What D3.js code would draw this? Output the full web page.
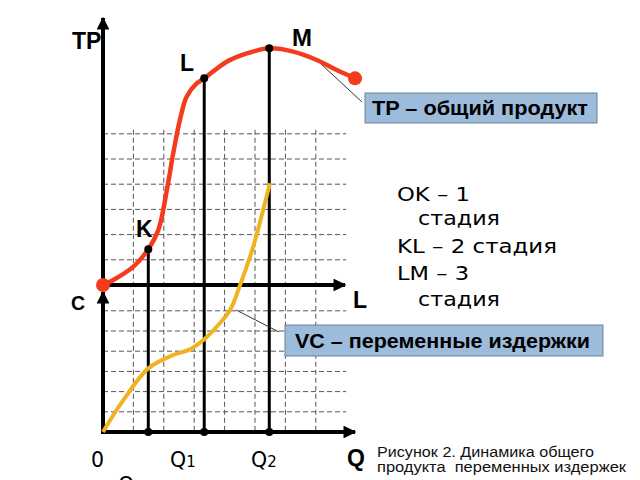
<!DOCTYPE html>
<html lang="ru">
<head>
<meta charset="utf-8">
<title>TP и VC</title>
<style>
  body { margin: 0; background: #fff; }
  svg { display: block; }
  .grid { stroke: #555; stroke-width: 1; stroke-dasharray: 5,3; fill: none; }
  .axis { stroke: #000; stroke-width: 4; fill: none; }
  .drop { stroke: #000; stroke-width: 3; }
  .lbl { font-family: "Liberation Sans", Arial, sans-serif; font-weight: bold; fill: #000; }
  .djv { font-family: "DejaVu Sans", sans-serif; fill: #000; }
</style>
</head>
<body>
<svg width="640" height="480"></svg>
<script src="https://d3js.org/d3.v7.min.js"></script>
<script>
  // labour units (one grid cell = 1)
  const tpX = [0, 0.34, 1.0, 1.49, 1.82, 2.12, 2.31, 2.53, 2.75, 3.08, 3.33, 4.07, 4.73, 5.47, 6.26, 7.03, 7.69, 8.29];
  const tpY = [0, 0.2, 0.73, 1.42, 2.18, 3.9, 5.23, 6.55, 7.47, 8.0, 8.2, 8.86, 9.19, 9.39, 9.26, 8.93, 8.53, 8.2];

  const vcX = [0, 0.34, 0.67, 1.49, 2.31, 2.86, 3.33, 3.74, 4.18, 4.51, 4.94, 5.49];
  const vcY = [0, 0.84, 1.58, 3.15, 3.81, 4.09, 4.59, 5.21, 6.04, 7.28, 9.17, 12.31];

  // K, L, M points (index into TP arrays)
  const keyPts = [
    {name: "K", i: 3},
    {name: "L", i: 10},
    {name: "M", i: 13}
  ];

  const gridX = [1, 2, 3, 4, 5, 6, 7];
  const gridY = [1, 2, 3, 4, 5, 6];

  const stages = ["OK – 1", "стадия", "KL – 2 стадия", "LM – 3", "стадия"];
  const stageIndent = [false, true, false, false, true];

  const svg = d3.select("svg");

  const x = d3.scaleLinear().domain([0, 8]).range([103, 346.2]);
  const yTP = d3.scaleLinear().domain([0, 6]).range([285, 133.8]);
  const yVC = d3.scaleLinear().domain([0, 6]).range([432, 310.8]);

  const red = "#f23c1c", orange = "#f0b21e";

  // dashed grid
  const g = svg.append("g");
  gridY.forEach(v => {
    g.append("line").attr("class", "grid")
      .attr("x1", x(0)).attr("x2", x(8)).attr("y1", yTP(v)).attr("y2", yTP(v));
    g.append("line").attr("class", "grid")
      .attr("x1", x(0)).attr("x2", x(8)).attr("y1", yVC(v)).attr("y2", yVC(v));
  });
  gridX.forEach(u => {
    g.append("line").attr("class", "grid")
      .attr("x1", x(u)).attr("x2", x(u)).attr("y1", yTP(6) - 4).attr("y2", yVC(0));
  });

  // arrow heads
  const defs = svg.append("defs");
  defs.append("marker").attr("id", "arr")
    .attr("viewBox", "0 0 10 10").attr("refX", 9).attr("refY", 5)
    .attr("markerWidth", 3.2).attr("markerHeight", 3.2)
    .attr("orient", "auto")
    .append("path").attr("d", "M0,0 L10,5 L0,10 z").attr("fill", "#000");

  // axes
  svg.append("line").attr("class", "axis").attr("marker-end", "url(#arr)")
    .attr("x1", x(0)).attr("y1", yTP(0) + 2).attr("x2", x(0)).attr("y2", 18);
  svg.append("line").attr("class", "axis").attr("marker-end", "url(#arr)")
    .attr("x1", x(0)).attr("y1", yTP(0)).attr("x2", 345).attr("y2", yTP(0));
  svg.append("line").attr("class", "axis").attr("marker-end", "url(#arr)")
    .attr("x1", x(0)).attr("y1", yVC(0) + 2).attr("x2", x(0)).attr("y2", 292);
  svg.append("line").attr("class", "axis").attr("marker-end", "url(#arr)")
    .attr("x1", x(0) - 2).attr("y1", yVC(0)).attr("x2", 355).attr("y2", yVC(0));

  // drop lines from K, L, M
  keyPts.forEach(p => {
    svg.append("line").attr("class", "drop")
      .attr("x1", x(tpX[p.i])).attr("x2", x(tpX[p.i]))
      .attr("y1", yTP(tpY[p.i])).attr("y2", yVC(0));
  });

  // leader lines
  svg.append("line").attr("stroke", "#333").attr("stroke-width", 1)
    .attr("x1", x(tpX[15])).attr("y1", yTP(tpY[15])).attr("x2", 362).attr("y2", 102);
  svg.append("line").attr("stroke", "#333").attr("stroke-width", 1)
    .attr("x1", x(vcX[8]) + 6).attr("y1", yVC(vcY[8])).attr("x2", 279).attr("y2", 332);

  // curves
  const tpLine = d3.line().x(d => x(d[0])).y(d => yTP(d[1])).curve(d3.curveCatmullRom.alpha(0.5));
  const vcLine = d3.line().x(d => x(d[0])).y(d => yVC(d[1])).curve(d3.curveCatmullRom.alpha(0.5));

  svg.append("path").attr("d", vcLine(d3.zip(vcX, vcY)))
    .attr("fill", "none").attr("stroke", orange).attr("stroke-width", 4);
  svg.append("path").attr("d", tpLine(d3.zip(tpX, tpY)))
    .attr("fill", "none").attr("stroke", red).attr("stroke-width", 4.5);

  // end dots
  const last = tpX.length - 1;
  svg.append("circle").attr("cx", x(tpX[0])).attr("cy", yTP(tpY[0])).attr("r", 7).attr("fill", red);
  svg.append("circle").attr("cx", x(tpX[last])).attr("cy", yTP(tpY[last])).attr("r", 7).attr("fill", red);

  keyPts.forEach(p => {
    svg.append("circle").attr("cx", x(tpX[p.i])).attr("cy", yTP(tpY[p.i])).attr("r", 4).attr("fill", "#000");
    svg.append("circle").attr("cx", x(tpX[p.i])).attr("cy", yVC(0)).attr("r", 4).attr("fill", "#000");
  });

  // point labels
  svg.append("text").attr("class", "lbl").attr("x", 136).attr("y", 237).attr("font-size", 23).text("K");
  svg.append("text").attr("class", "lbl").attr("x", 180).attr("y", 71).attr("font-size", 23).text("L");
  svg.append("text").attr("class", "lbl").attr("x", 292).attr("y", 46).attr("font-size", 24).text("M");

  // axis labels
  svg.append("text").attr("class", "lbl").attr("x", 72).attr("y", 49).attr("font-size", 23).text("TP");
  svg.append("text").attr("class", "lbl").attr("x", 353).attr("y", 308).attr("font-size", 23).text("L");
  svg.append("text").attr("class", "lbl").attr("x", 71).attr("y", 309.5).attr("font-size", 19.5).text("C");
  svg.append("text").attr("class", "lbl").attr("x", 347).attr("y", 466).attr("font-size", 23).text("Q");

  svg.append("text").attr("class", "djv").attr("x", 91).attr("y", 467).attr("font-size", 20.5).text("0");
  [[170, "1"], [251, "2"]].forEach(([qx, sub]) => {
    const q = svg.append("text").attr("class", "djv").attr("x", qx).attr("y", 467).attr("font-size", 20.5);
    q.append("tspan").text("Q");
    q.append("tspan").attr("font-size", 15).text(sub);
  });
  svg.append("text").attr("class", "djv").attr("x", 118).attr("y", 492).attr("font-size", 20.5).text("Q");

  // TP box
  svg.append("rect").attr("x", 365).attr("y", 93).attr("width", 232).attr("height", 30)
    .attr("fill", "#9dbbdb").attr("stroke", "#6f8397").attr("stroke-width", 1);
  svg.append("text").attr("class", "lbl").attr("x", 372).attr("y", 115).attr("font-size", 19.5)
    .attr("textLength", 216).attr("lengthAdjust", "spacingAndGlyphs")
    .text("TP – общий продукт");

  // VC box
  svg.append("rect").attr("x", 285).attr("y", 325).attr("width", 318).attr("height", 31)
    .attr("fill", "#9dbbdb").attr("stroke", "#6f8397").attr("stroke-width", 1);
  svg.append("text").attr("class", "lbl").attr("x", 295).attr("y", 348).attr("font-size", 21)
    .attr("textLength", 295).attr("lengthAdjust", "spacingAndGlyphs")
    .text("VC – переменные издержки");

  // stages
  const stageW = [73, 82, 160, 72, 82];
  const stageY = [201, 225, 253, 280, 306];
  stages.forEach((s, i) => {
    svg.append("text").attr("class", "djv").attr("font-size", 19.5)
      .attr("x", stageIndent[i] ? 418 : 397).attr("y", stageY[i])
      .attr("textLength", stageW[i]).attr("lengthAdjust", "spacingAndGlyphs")
      .text(s);
  });

  // caption
  const capLines = ["Рисунок 2. Динамика общего", "продукта\u00a0 переменных издержек"];
  const capW = [217, 249];
  capLines.forEach((s, i) => {
    svg.append("text").attr("font-family", "Liberation Sans, Arial, sans-serif")
      .attr("font-size", 14).attr("fill", "#111")
      .attr("x", 377).attr("y", 457 + i * 15)
      .attr("textLength", capW[i]).attr("lengthAdjust", "spacingAndGlyphs")
      .text(s);
  });
</script>
</body>
</html>
